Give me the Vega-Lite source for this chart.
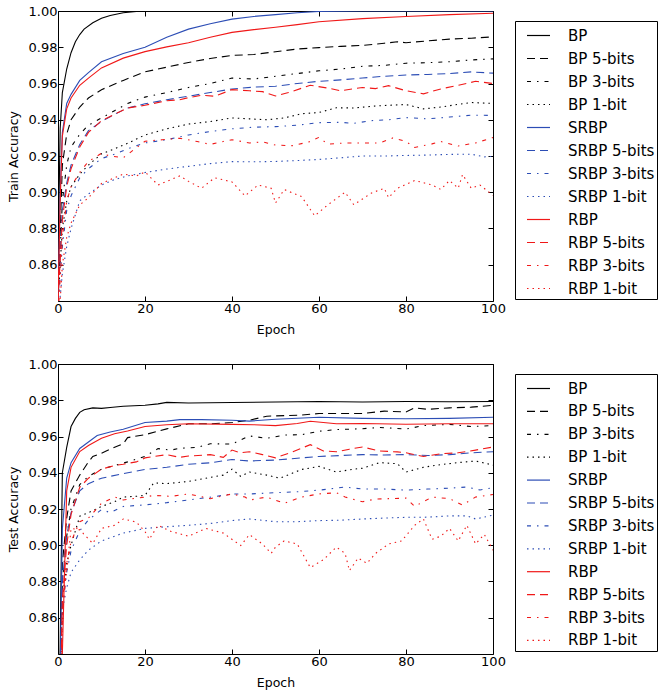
{
"$schema":"https://vega.github.io/schema/vega-lite/v6.json",
"padding":{"left":6,"top":4,"right":0,"bottom":4},
"spacing":19,
"config":{
 "font":"DejaVu Sans",
 "view":{"stroke":"black","strokeWidth":1},
 "axis":{"grid":false,"domain":false,"tickColor":"black","tickSize":-5,"labelFontSize":13,"labelColor":"black","titleFontSize":12.5,"titleFontWeight":"normal","titleColor":"black","labelPadding":6,"titlePadding":8,"labelFont":"DejaVu Sans","titleFont":"DejaVu Sans","labelFlush":false},
 "legend":{"symbolType":"stroke","symbolSize":529,"symbolStrokeWidth":1.2,"labelFontSize":15,"labelFont":"DejaVu Sans","labelColor":"black","strokeColor":"black","padding":2,"symbolOffset":9,"rowPadding":2,"labelOffset":17,"labelLimit":300,"labelExpr":"datum.label + '  '"}
},
"datasets":{
"train":[
{"s":"BP","x":0,"y":0.86},{"s":"BP","x":0.5,"y":0.935},{"s":"BP","x":1,"y":0.955},{"s":"BP","x":2,"y":0.968},{"s":"BP","x":3,"y":0.977},{"s":"BP","x":4,"y":0.983},{"s":"BP","x":5,"y":0.987},{"s":"BP","x":6,"y":0.990},{"s":"BP","x":8,"y":0.9935},{"s":"BP","x":10,"y":0.996},{"s":"BP","x":12,"y":0.9975},{"s":"BP","x":15,"y":0.999},{"s":"BP","x":18,"y":0.9998},{"s":"BP","x":20,"y":1.0},{"s":"BP","x":40,"y":1.0},{"s":"BP","x":60,"y":1.0},{"s":"BP","x":80,"y":1.0},{"s":"BP","x":100,"y":1.0},
{"s":"BP 5-bits","x":0,"y":0.84},{"s":"BP 5-bits","x":1,"y":0.915},{"s":"BP 5-bits","x":2,"y":0.932},{"s":"BP 5-bits","x":3,"y":0.940},{"s":"BP 5-bits","x":5,"y":0.947},{"s":"BP 5-bits","x":7,"y":0.952},{"s":"BP 5-bits","x":10,"y":0.9566},{"s":"BP 5-bits","x":15,"y":0.9617},{"s":"BP 5-bits","x":20,"y":0.9664},{"s":"BP 5-bits","x":25,"y":0.969},{"s":"BP 5-bits","x":30,"y":0.9716},{"s":"BP 5-bits","x":35,"y":0.9738},{"s":"BP 5-bits","x":40,"y":0.9755},{"s":"BP 5-bits","x":45,"y":0.976},{"s":"BP 5-bits","x":50,"y":0.9775},{"s":"BP 5-bits","x":55,"y":0.979},{"s":"BP 5-bits","x":60,"y":0.9798},{"s":"BP 5-bits","x":65,"y":0.9805},{"s":"BP 5-bits","x":70,"y":0.981},{"s":"BP 5-bits","x":75,"y":0.9822},{"s":"BP 5-bits","x":78,"y":0.983},{"s":"BP 5-bits","x":80,"y":0.9825},{"s":"BP 5-bits","x":85,"y":0.9835},{"s":"BP 5-bits","x":90,"y":0.9845},{"s":"BP 5-bits","x":95,"y":0.985},{"s":"BP 5-bits","x":100,"y":0.9857},
{"s":"BP 3-bits","x":0,"y":0.84},{"s":"BP 3-bits","x":1,"y":0.895},{"s":"BP 3-bits","x":2,"y":0.915},{"s":"BP 3-bits","x":3,"y":0.925},{"s":"BP 3-bits","x":5,"y":0.932},{"s":"BP 3-bits","x":7,"y":0.937},{"s":"BP 3-bits","x":10,"y":0.941},{"s":"BP 3-bits","x":13,"y":0.945},{"s":"BP 3-bits","x":16,"y":0.949},{"s":"BP 3-bits","x":20,"y":0.9525},{"s":"BP 3-bits","x":25,"y":0.955},{"s":"BP 3-bits","x":30,"y":0.9578},{"s":"BP 3-bits","x":35,"y":0.960},{"s":"BP 3-bits","x":40,"y":0.963},{"s":"BP 3-bits","x":45,"y":0.9625},{"s":"BP 3-bits","x":50,"y":0.964},{"s":"BP 3-bits","x":55,"y":0.9655},{"s":"BP 3-bits","x":60,"y":0.967},{"s":"BP 3-bits","x":65,"y":0.968},{"s":"BP 3-bits","x":70,"y":0.9695},{"s":"BP 3-bits","x":75,"y":0.970},{"s":"BP 3-bits","x":80,"y":0.9712},{"s":"BP 3-bits","x":85,"y":0.9715},{"s":"BP 3-bits","x":90,"y":0.972},{"s":"BP 3-bits","x":95,"y":0.973},{"s":"BP 3-bits","x":100,"y":0.9736},
{"s":"BP 1-bit","x":0,"y":0.84},{"s":"BP 1-bit","x":1,"y":0.88},{"s":"BP 1-bit","x":2,"y":0.895},{"s":"BP 1-bit","x":3,"y":0.903},{"s":"BP 1-bit","x":5,"y":0.910},{"s":"BP 1-bit","x":7,"y":0.915},{"s":"BP 1-bit","x":10,"y":0.9212},{"s":"BP 1-bit","x":13,"y":0.924},{"s":"BP 1-bit","x":16,"y":0.927},{"s":"BP 1-bit","x":20,"y":0.9316},{"s":"BP 1-bit","x":25,"y":0.935},{"s":"BP 1-bit","x":30,"y":0.9376},{"s":"BP 1-bit","x":35,"y":0.939},{"s":"BP 1-bit","x":40,"y":0.941},{"s":"BP 1-bit","x":44,"y":0.9405},{"s":"BP 1-bit","x":48,"y":0.940},{"s":"BP 1-bit","x":52,"y":0.941},{"s":"BP 1-bit","x":56,"y":0.9433},{"s":"BP 1-bit","x":60,"y":0.944},{"s":"BP 1-bit","x":64,"y":0.9466},{"s":"BP 1-bit","x":68,"y":0.9465},{"s":"BP 1-bit","x":72,"y":0.9474},{"s":"BP 1-bit","x":76,"y":0.948},{"s":"BP 1-bit","x":80,"y":0.9484},{"s":"BP 1-bit","x":84,"y":0.946},{"s":"BP 1-bit","x":88,"y":0.947},{"s":"BP 1-bit","x":92,"y":0.9485},{"s":"BP 1-bit","x":95,"y":0.9495},{"s":"BP 1-bit","x":100,"y":0.949},
{"s":"SRBP","x":0,"y":0.84},{"s":"SRBP","x":0.5,"y":0.90},{"s":"SRBP","x":1,"y":0.933},{"s":"SRBP","x":2,"y":0.949},{"s":"SRBP","x":3,"y":0.954},{"s":"SRBP","x":5,"y":0.9617},{"s":"SRBP","x":7,"y":0.966},{"s":"SRBP","x":10,"y":0.972},{"s":"SRBP","x":15,"y":0.9765},{"s":"SRBP","x":20,"y":0.980},{"s":"SRBP","x":25,"y":0.9855},{"s":"SRBP","x":30,"y":0.990},{"s":"SRBP","x":35,"y":0.993},{"s":"SRBP","x":40,"y":0.9955},{"s":"SRBP","x":45,"y":0.997},{"s":"SRBP","x":50,"y":0.998},{"s":"SRBP","x":55,"y":0.999},{"s":"SRBP","x":60,"y":0.9998},{"s":"SRBP","x":70,"y":1.0},{"s":"SRBP","x":100,"y":1.0},
{"s":"SRBP 5-bits","x":0,"y":0.84},{"s":"SRBP 5-bits","x":1,"y":0.89},{"s":"SRBP 5-bits","x":2,"y":0.905},{"s":"SRBP 5-bits","x":3,"y":0.915},{"s":"SRBP 5-bits","x":5,"y":0.9264},{"s":"SRBP 5-bits","x":7,"y":0.934},{"s":"SRBP 5-bits","x":10,"y":0.939},{"s":"SRBP 5-bits","x":13,"y":0.943},{"s":"SRBP 5-bits","x":16,"y":0.9465},{"s":"SRBP 5-bits","x":20,"y":0.9488},{"s":"SRBP 5-bits","x":25,"y":0.951},{"s":"SRBP 5-bits","x":30,"y":0.953},{"s":"SRBP 5-bits","x":35,"y":0.955},{"s":"SRBP 5-bits","x":40,"y":0.957},{"s":"SRBP 5-bits","x":45,"y":0.958},{"s":"SRBP 5-bits","x":50,"y":0.9585},{"s":"SRBP 5-bits","x":55,"y":0.960},{"s":"SRBP 5-bits","x":60,"y":0.9612},{"s":"SRBP 5-bits","x":65,"y":0.962},{"s":"SRBP 5-bits","x":70,"y":0.963},{"s":"SRBP 5-bits","x":75,"y":0.964},{"s":"SRBP 5-bits","x":80,"y":0.9647},{"s":"SRBP 5-bits","x":85,"y":0.965},{"s":"SRBP 5-bits","x":90,"y":0.9655},{"s":"SRBP 5-bits","x":95,"y":0.9664},{"s":"SRBP 5-bits","x":100,"y":0.9657},
{"s":"SRBP 3-bits","x":0,"y":0.84},{"s":"SRBP 3-bits","x":1,"y":0.87},{"s":"SRBP 3-bits","x":2,"y":0.89},{"s":"SRBP 3-bits","x":3,"y":0.898},{"s":"SRBP 3-bits","x":5,"y":0.908},{"s":"SRBP 3-bits","x":7,"y":0.913},{"s":"SRBP 3-bits","x":10,"y":0.9186},{"s":"SRBP 3-bits","x":13,"y":0.921},{"s":"SRBP 3-bits","x":16,"y":0.924},{"s":"SRBP 3-bits","x":20,"y":0.9272},{"s":"SRBP 3-bits","x":25,"y":0.929},{"s":"SRBP 3-bits","x":30,"y":0.9316},{"s":"SRBP 3-bits","x":35,"y":0.9335},{"s":"SRBP 3-bits","x":40,"y":0.935},{"s":"SRBP 3-bits","x":45,"y":0.9359},{"s":"SRBP 3-bits","x":50,"y":0.9362},{"s":"SRBP 3-bits","x":55,"y":0.937},{"s":"SRBP 3-bits","x":60,"y":0.9384},{"s":"SRBP 3-bits","x":65,"y":0.9386},{"s":"SRBP 3-bits","x":68,"y":0.938},{"s":"SRBP 3-bits","x":72,"y":0.9395},{"s":"SRBP 3-bits","x":76,"y":0.940},{"s":"SRBP 3-bits","x":80,"y":0.9412},{"s":"SRBP 3-bits","x":85,"y":0.9405},{"s":"SRBP 3-bits","x":90,"y":0.9415},{"s":"SRBP 3-bits","x":95,"y":0.9425},{"s":"SRBP 3-bits","x":100,"y":0.9424},
{"s":"SRBP 1-bit","x":0,"y":0.83},{"s":"SRBP 1-bit","x":1,"y":0.855},{"s":"SRBP 1-bit","x":2,"y":0.87},{"s":"SRBP 1-bit","x":3,"y":0.88},{"s":"SRBP 1-bit","x":5,"y":0.8953},{"s":"SRBP 1-bit","x":7,"y":0.899},{"s":"SRBP 1-bit","x":10,"y":0.904},{"s":"SRBP 1-bit","x":13,"y":0.907},{"s":"SRBP 1-bit","x":16,"y":0.909},{"s":"SRBP 1-bit","x":20,"y":0.9109},{"s":"SRBP 1-bit","x":25,"y":0.9128},{"s":"SRBP 1-bit","x":30,"y":0.9143},{"s":"SRBP 1-bit","x":35,"y":0.9158},{"s":"SRBP 1-bit","x":40,"y":0.9169},{"s":"SRBP 1-bit","x":45,"y":0.9168},{"s":"SRBP 1-bit","x":50,"y":0.917},{"s":"SRBP 1-bit","x":55,"y":0.9175},{"s":"SRBP 1-bit","x":60,"y":0.9181},{"s":"SRBP 1-bit","x":65,"y":0.919},{"s":"SRBP 1-bit","x":70,"y":0.920},{"s":"SRBP 1-bit","x":75,"y":0.920},{"s":"SRBP 1-bit","x":80,"y":0.9203},{"s":"SRBP 1-bit","x":85,"y":0.9205},{"s":"SRBP 1-bit","x":90,"y":0.9209},{"s":"SRBP 1-bit","x":95,"y":0.921},{"s":"SRBP 1-bit","x":98,"y":0.9195},{"s":"SRBP 1-bit","x":100,"y":0.9198},
{"s":"RBP","x":0,"y":0.84},{"s":"RBP","x":0.5,"y":0.895},{"s":"RBP","x":1,"y":0.931},{"s":"RBP","x":2,"y":0.946},{"s":"RBP","x":3,"y":0.952},{"s":"RBP","x":5,"y":0.959},{"s":"RBP","x":7,"y":0.963},{"s":"RBP","x":10,"y":0.9686},{"s":"RBP","x":15,"y":0.974},{"s":"RBP","x":20,"y":0.9776},{"s":"RBP","x":25,"y":0.9802},{"s":"RBP","x":30,"y":0.9825},{"s":"RBP","x":35,"y":0.9855},{"s":"RBP","x":40,"y":0.9882},{"s":"RBP","x":45,"y":0.9897},{"s":"RBP","x":50,"y":0.991},{"s":"RBP","x":55,"y":0.9925},{"s":"RBP","x":60,"y":0.9941},{"s":"RBP","x":70,"y":0.9958},{"s":"RBP","x":80,"y":0.997},{"s":"RBP","x":90,"y":0.998},{"s":"RBP","x":100,"y":0.9988},
{"s":"RBP 5-bits","x":0,"y":0.84},{"s":"RBP 5-bits","x":1,"y":0.885},{"s":"RBP 5-bits","x":2,"y":0.903},{"s":"RBP 5-bits","x":3,"y":0.913},{"s":"RBP 5-bits","x":5,"y":0.925},{"s":"RBP 5-bits","x":7,"y":0.933},{"s":"RBP 5-bits","x":10,"y":0.9395},{"s":"RBP 5-bits","x":13,"y":0.943},{"s":"RBP 5-bits","x":16,"y":0.9465},{"s":"RBP 5-bits","x":20,"y":0.948},{"s":"RBP 5-bits","x":25,"y":0.9505},{"s":"RBP 5-bits","x":28,"y":0.951},{"s":"RBP 5-bits","x":30,"y":0.9522},{"s":"RBP 5-bits","x":33,"y":0.9535},{"s":"RBP 5-bits","x":36,"y":0.953},{"s":"RBP 5-bits","x":40,"y":0.9566},{"s":"RBP 5-bits","x":44,"y":0.956},{"s":"RBP 5-bits","x":47,"y":0.9555},{"s":"RBP 5-bits","x":50,"y":0.9531},{"s":"RBP 5-bits","x":53,"y":0.955},{"s":"RBP 5-bits","x":58,"y":0.959},{"s":"RBP 5-bits","x":62,"y":0.9575},{"s":"RBP 5-bits","x":65,"y":0.956},{"s":"RBP 5-bits","x":70,"y":0.9578},{"s":"RBP 5-bits","x":73,"y":0.9572},{"s":"RBP 5-bits","x":76,"y":0.9588},{"s":"RBP 5-bits","x":80,"y":0.956},{"s":"RBP 5-bits","x":84,"y":0.9543},{"s":"RBP 5-bits","x":88,"y":0.957},{"s":"RBP 5-bits","x":92,"y":0.959},{"s":"RBP 5-bits","x":96,"y":0.9612},{"s":"RBP 5-bits","x":100,"y":0.960},
{"s":"RBP 3-bits","x":0,"y":0.83},{"s":"RBP 3-bits","x":1,"y":0.875},{"s":"RBP 3-bits","x":2,"y":0.895},{"s":"RBP 3-bits","x":3,"y":0.903},{"s":"RBP 3-bits","x":5,"y":0.911},{"s":"RBP 3-bits","x":7,"y":0.917},{"s":"RBP 3-bits","x":10,"y":0.9215},{"s":"RBP 3-bits","x":12,"y":0.920},{"s":"RBP 3-bits","x":15,"y":0.919},{"s":"RBP 3-bits","x":18,"y":0.9245},{"s":"RBP 3-bits","x":20,"y":0.9281},{"s":"RBP 3-bits","x":24,"y":0.929},{"s":"RBP 3-bits","x":28,"y":0.9298},{"s":"RBP 3-bits","x":32,"y":0.928},{"s":"RBP 3-bits","x":35,"y":0.9264},{"s":"RBP 3-bits","x":38,"y":0.928},{"s":"RBP 3-bits","x":40,"y":0.929},{"s":"RBP 3-bits","x":44,"y":0.9272},{"s":"RBP 3-bits","x":47,"y":0.9278},{"s":"RBP 3-bits","x":50,"y":0.926},{"s":"RBP 3-bits","x":54,"y":0.9257},{"s":"RBP 3-bits","x":58,"y":0.928},{"s":"RBP 3-bits","x":60,"y":0.9303},{"s":"RBP 3-bits","x":62,"y":0.9265},{"s":"RBP 3-bits","x":66,"y":0.9272},{"s":"RBP 3-bits","x":70,"y":0.9272},{"s":"RBP 3-bits","x":74,"y":0.9272},{"s":"RBP 3-bits","x":77,"y":0.930},{"s":"RBP 3-bits","x":80,"y":0.928},{"s":"RBP 3-bits","x":82,"y":0.9247},{"s":"RBP 3-bits","x":86,"y":0.9267},{"s":"RBP 3-bits","x":88,"y":0.928},{"s":"RBP 3-bits","x":92,"y":0.9255},{"s":"RBP 3-bits","x":96,"y":0.9272},{"s":"RBP 3-bits","x":100,"y":0.9302},
{"s":"RBP 1-bit","x":0,"y":0.82},{"s":"RBP 1-bit","x":1,"y":0.86},{"s":"RBP 1-bit","x":2,"y":0.875},{"s":"RBP 1-bit","x":3,"y":0.883},{"s":"RBP 1-bit","x":5,"y":0.893},{"s":"RBP 1-bit","x":7,"y":0.897},{"s":"RBP 1-bit","x":10,"y":0.9048},{"s":"RBP 1-bit","x":13,"y":0.908},{"s":"RBP 1-bit","x":15,"y":0.910},{"s":"RBP 1-bit","x":18,"y":0.909},{"s":"RBP 1-bit","x":20,"y":0.9112},{"s":"RBP 1-bit","x":23,"y":0.904},{"s":"RBP 1-bit","x":26,"y":0.907},{"s":"RBP 1-bit","x":28,"y":0.909},{"s":"RBP 1-bit","x":30,"y":0.906},{"s":"RBP 1-bit","x":33,"y":0.9022},{"s":"RBP 1-bit","x":36,"y":0.908},{"s":"RBP 1-bit","x":40,"y":0.9057},{"s":"RBP 1-bit","x":43,"y":0.898},{"s":"RBP 1-bit","x":46,"y":0.904},{"s":"RBP 1-bit","x":49,"y":0.9022},{"s":"RBP 1-bit","x":50,"y":0.894},{"s":"RBP 1-bit","x":52,"y":0.9015},{"s":"RBP 1-bit","x":56,"y":0.8976},{"s":"RBP 1-bit","x":59,"y":0.887},{"s":"RBP 1-bit","x":62,"y":0.893},{"s":"RBP 1-bit","x":66,"y":0.900},{"s":"RBP 1-bit","x":68,"y":0.8931},{"s":"RBP 1-bit","x":72,"y":0.8995},{"s":"RBP 1-bit","x":75,"y":0.9022},{"s":"RBP 1-bit","x":76,"y":0.897},{"s":"RBP 1-bit","x":78,"y":0.9022},{"s":"RBP 1-bit","x":82,"y":0.9065},{"s":"RBP 1-bit","x":86,"y":0.904},{"s":"RBP 1-bit","x":88,"y":0.9015},{"s":"RBP 1-bit","x":90,"y":0.9065},{"s":"RBP 1-bit","x":92,"y":0.9022},{"s":"RBP 1-bit","x":93,"y":0.9098},{"s":"RBP 1-bit","x":95,"y":0.9022},{"s":"RBP 1-bit","x":97,"y":0.904},{"s":"RBP 1-bit","x":100,"y":0.8983}
],
"test":[
{"s":"BP","x":0,"y":0.75},{"s":"BP","x":1,"y":0.94},{"s":"BP","x":2,"y":0.954},{"s":"BP","x":3,"y":0.9655},{"s":"BP","x":4,"y":0.970},{"s":"BP","x":5,"y":0.9733},{"s":"BP","x":6,"y":0.9748},{"s":"BP","x":8,"y":0.9758},{"s":"BP","x":10,"y":0.9755},{"s":"BP","x":12,"y":0.976},{"s":"BP","x":15,"y":0.9767},{"s":"BP","x":20,"y":0.9772},{"s":"BP","x":23,"y":0.978},{"s":"BP","x":25,"y":0.9788},{"s":"BP","x":30,"y":0.9785},{"s":"BP","x":40,"y":0.9788},{"s":"BP","x":50,"y":0.979},{"s":"BP","x":60,"y":0.9793},{"s":"BP","x":70,"y":0.979},{"s":"BP","x":80,"y":0.9793},{"s":"BP","x":90,"y":0.9792},{"s":"BP","x":100,"y":0.9793},
{"s":"BP 5-bits","x":0,"y":0.75},{"s":"BP 5-bits","x":1,"y":0.89},{"s":"BP 5-bits","x":2,"y":0.915},{"s":"BP 5-bits","x":3,"y":0.930},{"s":"BP 5-bits","x":5,"y":0.9387},{"s":"BP 5-bits","x":7,"y":0.946},{"s":"BP 5-bits","x":8,"y":0.949},{"s":"BP 5-bits","x":10,"y":0.9508},{"s":"BP 5-bits","x":12,"y":0.953},{"s":"BP 5-bits","x":14,"y":0.955},{"s":"BP 5-bits","x":15,"y":0.956},{"s":"BP 5-bits","x":16,"y":0.9594},{"s":"BP 5-bits","x":20,"y":0.961},{"s":"BP 5-bits","x":25,"y":0.9642},{"s":"BP 5-bits","x":30,"y":0.967},{"s":"BP 5-bits","x":35,"y":0.967},{"s":"BP 5-bits","x":40,"y":0.9677},{"s":"BP 5-bits","x":44,"y":0.969},{"s":"BP 5-bits","x":48,"y":0.9712},{"s":"BP 5-bits","x":52,"y":0.9715},{"s":"BP 5-bits","x":56,"y":0.9718},{"s":"BP 5-bits","x":60,"y":0.9727},{"s":"BP 5-bits","x":65,"y":0.9727},{"s":"BP 5-bits","x":70,"y":0.9727},{"s":"BP 5-bits","x":75,"y":0.974},{"s":"BP 5-bits","x":80,"y":0.9735},{"s":"BP 5-bits","x":82,"y":0.9758},{"s":"BP 5-bits","x":85,"y":0.975},{"s":"BP 5-bits","x":88,"y":0.9755},{"s":"BP 5-bits","x":90,"y":0.9758},{"s":"BP 5-bits","x":95,"y":0.9762},{"s":"BP 5-bits","x":100,"y":0.9772},
{"s":"BP 3-bits","x":0,"y":0.75},{"s":"BP 3-bits","x":1,"y":0.88},{"s":"BP 3-bits","x":2,"y":0.905},{"s":"BP 3-bits","x":3,"y":0.92},{"s":"BP 3-bits","x":5,"y":0.9335},{"s":"BP 3-bits","x":7,"y":0.938},{"s":"BP 3-bits","x":10,"y":0.942},{"s":"BP 3-bits","x":13,"y":0.944},{"s":"BP 3-bits","x":16,"y":0.946},{"s":"BP 3-bits","x":20,"y":0.949},{"s":"BP 3-bits","x":23,"y":0.9533},{"s":"BP 3-bits","x":26,"y":0.9525},{"s":"BP 3-bits","x":28,"y":0.9535},{"s":"BP 3-bits","x":32,"y":0.954},{"s":"BP 3-bits","x":35,"y":0.956},{"s":"BP 3-bits","x":40,"y":0.9558},{"s":"BP 3-bits","x":44,"y":0.9603},{"s":"BP 3-bits","x":48,"y":0.959},{"s":"BP 3-bits","x":52,"y":0.9608},{"s":"BP 3-bits","x":56,"y":0.961},{"s":"BP 3-bits","x":60,"y":0.9629},{"s":"BP 3-bits","x":64,"y":0.9638},{"s":"BP 3-bits","x":70,"y":0.9643},{"s":"BP 3-bits","x":74,"y":0.965},{"s":"BP 3-bits","x":80,"y":0.9641},{"s":"BP 3-bits","x":84,"y":0.966},{"s":"BP 3-bits","x":90,"y":0.9667},{"s":"BP 3-bits","x":95,"y":0.9655},{"s":"BP 3-bits","x":100,"y":0.966},
{"s":"BP 1-bit","x":0,"y":0.75},{"s":"BP 1-bit","x":1,"y":0.87},{"s":"BP 1-bit","x":2,"y":0.89},{"s":"BP 1-bit","x":3,"y":0.90},{"s":"BP 1-bit","x":5,"y":0.916},{"s":"BP 1-bit","x":7,"y":0.918},{"s":"BP 1-bit","x":10,"y":0.9214},{"s":"BP 1-bit","x":13,"y":0.924},{"s":"BP 1-bit","x":15,"y":0.9266},{"s":"BP 1-bit","x":18,"y":0.927},{"s":"BP 1-bit","x":20,"y":0.9275},{"s":"BP 1-bit","x":22,"y":0.9344},{"s":"BP 1-bit","x":25,"y":0.934},{"s":"BP 1-bit","x":30,"y":0.9352},{"s":"BP 1-bit","x":34,"y":0.937},{"s":"BP 1-bit","x":38,"y":0.9387},{"s":"BP 1-bit","x":40,"y":0.942},{"s":"BP 1-bit","x":42,"y":0.938},{"s":"BP 1-bit","x":44,"y":0.9404},{"s":"BP 1-bit","x":48,"y":0.9387},{"s":"BP 1-bit","x":51,"y":0.937},{"s":"BP 1-bit","x":56,"y":0.9418},{"s":"BP 1-bit","x":60,"y":0.9435},{"s":"BP 1-bit","x":64,"y":0.9404},{"s":"BP 1-bit","x":68,"y":0.942},{"s":"BP 1-bit","x":70,"y":0.9425},{"s":"BP 1-bit","x":74,"y":0.9456},{"s":"BP 1-bit","x":78,"y":0.945},{"s":"BP 1-bit","x":80,"y":0.9404},{"s":"BP 1-bit","x":84,"y":0.943},{"s":"BP 1-bit","x":88,"y":0.9445},{"s":"BP 1-bit","x":92,"y":0.9456},{"s":"BP 1-bit","x":96,"y":0.9465},{"s":"BP 1-bit","x":100,"y":0.9442},
{"s":"SRBP","x":0,"y":0.75},{"s":"SRBP","x":1,"y":0.909},{"s":"SRBP","x":2,"y":0.937},{"s":"SRBP","x":3,"y":0.9456},{"s":"SRBP","x":5,"y":0.9534},{"s":"SRBP","x":7,"y":0.957},{"s":"SRBP","x":9,"y":0.9605},{"s":"SRBP","x":12,"y":0.9625},{"s":"SRBP","x":15,"y":0.964},{"s":"SRBP","x":20,"y":0.9677},{"s":"SRBP","x":25,"y":0.9685},{"s":"SRBP","x":28,"y":0.9693},{"s":"SRBP","x":33,"y":0.9693},{"s":"SRBP","x":40,"y":0.969},{"s":"SRBP","x":44,"y":0.9685},{"s":"SRBP","x":50,"y":0.9695},{"s":"SRBP","x":60,"y":0.9706},{"s":"SRBP","x":70,"y":0.970},{"s":"SRBP","x":80,"y":0.9698},{"s":"SRBP","x":90,"y":0.970},{"s":"SRBP","x":100,"y":0.9706},
{"s":"SRBP 5-bits","x":0,"y":0.75},{"s":"SRBP 5-bits","x":1,"y":0.88},{"s":"SRBP 5-bits","x":2,"y":0.905},{"s":"SRBP 5-bits","x":3,"y":0.918},{"s":"SRBP 5-bits","x":5,"y":0.930},{"s":"SRBP 5-bits","x":7,"y":0.934},{"s":"SRBP 5-bits","x":10,"y":0.937},{"s":"SRBP 5-bits","x":15,"y":0.9395},{"s":"SRBP 5-bits","x":20,"y":0.9418},{"s":"SRBP 5-bits","x":25,"y":0.943},{"s":"SRBP 5-bits","x":30,"y":0.9447},{"s":"SRBP 5-bits","x":35,"y":0.9455},{"s":"SRBP 5-bits","x":40,"y":0.9473},{"s":"SRBP 5-bits","x":44,"y":0.9465},{"s":"SRBP 5-bits","x":50,"y":0.947},{"s":"SRBP 5-bits","x":55,"y":0.948},{"s":"SRBP 5-bits","x":60,"y":0.949},{"s":"SRBP 5-bits","x":65,"y":0.9495},{"s":"SRBP 5-bits","x":70,"y":0.95},{"s":"SRBP 5-bits","x":75,"y":0.9498},{"s":"SRBP 5-bits","x":80,"y":0.95},{"s":"SRBP 5-bits","x":85,"y":0.9495},{"s":"SRBP 5-bits","x":90,"y":0.95},{"s":"SRBP 5-bits","x":95,"y":0.951},{"s":"SRBP 5-bits","x":100,"y":0.9516},
{"s":"SRBP 3-bits","x":0,"y":0.75},{"s":"SRBP 3-bits","x":1,"y":0.865},{"s":"SRBP 3-bits","x":2,"y":0.885},{"s":"SRBP 3-bits","x":3,"y":0.897},{"s":"SRBP 3-bits","x":5,"y":0.908},{"s":"SRBP 3-bits","x":7,"y":0.914},{"s":"SRBP 3-bits","x":10,"y":0.9197},{"s":"SRBP 3-bits","x":12,"y":0.918},{"s":"SRBP 3-bits","x":15,"y":0.9214},{"s":"SRBP 3-bits","x":20,"y":0.9223},{"s":"SRBP 3-bits","x":25,"y":0.9235},{"s":"SRBP 3-bits","x":30,"y":0.925},{"s":"SRBP 3-bits","x":35,"y":0.9265},{"s":"SRBP 3-bits","x":40,"y":0.9283},{"s":"SRBP 3-bits","x":44,"y":0.9283},{"s":"SRBP 3-bits","x":50,"y":0.929},{"s":"SRBP 3-bits","x":55,"y":0.9295},{"s":"SRBP 3-bits","x":60,"y":0.9304},{"s":"SRBP 3-bits","x":66,"y":0.9321},{"s":"SRBP 3-bits","x":70,"y":0.931},{"s":"SRBP 3-bits","x":75,"y":0.931},{"s":"SRBP 3-bits","x":80,"y":0.9304},{"s":"SRBP 3-bits","x":85,"y":0.931},{"s":"SRBP 3-bits","x":90,"y":0.9315},{"s":"SRBP 3-bits","x":94,"y":0.9321},{"s":"SRBP 3-bits","x":97,"y":0.9305},{"s":"SRBP 3-bits","x":100,"y":0.9318},
{"s":"SRBP 1-bit","x":0,"y":0.75},{"s":"SRBP 1-bit","x":1,"y":0.8644},{"s":"SRBP 1-bit","x":2,"y":0.8765},{"s":"SRBP 1-bit","x":3,"y":0.885},{"s":"SRBP 1-bit","x":5,"y":0.892},{"s":"SRBP 1-bit","x":7,"y":0.8973},{"s":"SRBP 1-bit","x":10,"y":0.9024},{"s":"SRBP 1-bit","x":15,"y":0.9067},{"s":"SRBP 1-bit","x":20,"y":0.9093},{"s":"SRBP 1-bit","x":25,"y":0.9102},{"s":"SRBP 1-bit","x":30,"y":0.911},{"s":"SRBP 1-bit","x":35,"y":0.912},{"s":"SRBP 1-bit","x":40,"y":0.9136},{"s":"SRBP 1-bit","x":44,"y":0.9145},{"s":"SRBP 1-bit","x":50,"y":0.913},{"s":"SRBP 1-bit","x":55,"y":0.913},{"s":"SRBP 1-bit","x":60,"y":0.9136},{"s":"SRBP 1-bit","x":65,"y":0.9138},{"s":"SRBP 1-bit","x":70,"y":0.9145},{"s":"SRBP 1-bit","x":75,"y":0.915},{"s":"SRBP 1-bit","x":80,"y":0.9154},{"s":"SRBP 1-bit","x":85,"y":0.9155},{"s":"SRBP 1-bit","x":90,"y":0.9162},{"s":"SRBP 1-bit","x":94,"y":0.9162},{"s":"SRBP 1-bit","x":96,"y":0.9145},{"s":"SRBP 1-bit","x":100,"y":0.9166},
{"s":"RBP","x":0,"y":0.75},{"s":"RBP","x":1,"y":0.84},{"s":"RBP","x":2,"y":0.93},{"s":"RBP","x":3,"y":0.943},{"s":"RBP","x":5,"y":0.9517},{"s":"RBP","x":7,"y":0.955},{"s":"RBP","x":10,"y":0.959},{"s":"RBP","x":13,"y":0.9615},{"s":"RBP","x":16,"y":0.963},{"s":"RBP","x":20,"y":0.9655},{"s":"RBP","x":25,"y":0.9665},{"s":"RBP","x":30,"y":0.967},{"s":"RBP","x":40,"y":0.9667},{"s":"RBP","x":45,"y":0.9665},{"s":"RBP","x":50,"y":0.966},{"s":"RBP","x":55,"y":0.9672},{"s":"RBP","x":58,"y":0.9684},{"s":"RBP","x":64,"y":0.967},{"s":"RBP","x":70,"y":0.9672},{"s":"RBP","x":80,"y":0.9668},{"s":"RBP","x":90,"y":0.967},{"s":"RBP","x":100,"y":0.967},
{"s":"RBP 5-bits","x":0,"y":0.75},{"s":"RBP 5-bits","x":1,"y":0.87},{"s":"RBP 5-bits","x":2,"y":0.90},{"s":"RBP 5-bits","x":3,"y":0.917},{"s":"RBP 5-bits","x":5,"y":0.932},{"s":"RBP 5-bits","x":7,"y":0.937},{"s":"RBP 5-bits","x":10,"y":0.942},{"s":"RBP 5-bits","x":13,"y":0.944},{"s":"RBP 5-bits","x":15,"y":0.9447},{"s":"RBP 5-bits","x":18,"y":0.946},{"s":"RBP 5-bits","x":20,"y":0.9482},{"s":"RBP 5-bits","x":25,"y":0.950},{"s":"RBP 5-bits","x":28,"y":0.9485},{"s":"RBP 5-bits","x":30,"y":0.9492},{"s":"RBP 5-bits","x":35,"y":0.950},{"s":"RBP 5-bits","x":38,"y":0.9485},{"s":"RBP 5-bits","x":40,"y":0.9525},{"s":"RBP 5-bits","x":42,"y":0.951},{"s":"RBP 5-bits","x":44,"y":0.9516},{"s":"RBP 5-bits","x":47,"y":0.950},{"s":"RBP 5-bits","x":50,"y":0.9482},{"s":"RBP 5-bits","x":54,"y":0.9516},{"s":"RBP 5-bits","x":58,"y":0.9555},{"s":"RBP 5-bits","x":61,"y":0.952},{"s":"RBP 5-bits","x":64,"y":0.9516},{"s":"RBP 5-bits","x":67,"y":0.953},{"s":"RBP 5-bits","x":70,"y":0.9542},{"s":"RBP 5-bits","x":74,"y":0.952},{"s":"RBP 5-bits","x":78,"y":0.9515},{"s":"RBP 5-bits","x":80,"y":0.951},{"s":"RBP 5-bits","x":84,"y":0.949},{"s":"RBP 5-bits","x":88,"y":0.9505},{"s":"RBP 5-bits","x":92,"y":0.951},{"s":"RBP 5-bits","x":96,"y":0.9525},{"s":"RBP 5-bits","x":100,"y":0.9542},
{"s":"RBP 3-bits","x":0,"y":0.75},{"s":"RBP 3-bits","x":1,"y":0.86},{"s":"RBP 3-bits","x":2,"y":0.89},{"s":"RBP 3-bits","x":3,"y":0.902},{"s":"RBP 3-bits","x":5,"y":0.913},{"s":"RBP 3-bits","x":7,"y":0.915},{"s":"RBP 3-bits","x":10,"y":0.9232},{"s":"RBP 3-bits","x":13,"y":0.9266},{"s":"RBP 3-bits","x":15,"y":0.925},{"s":"RBP 3-bits","x":18,"y":0.926},{"s":"RBP 3-bits","x":20,"y":0.9266},{"s":"RBP 3-bits","x":22,"y":0.9275},{"s":"RBP 3-bits","x":26,"y":0.927},{"s":"RBP 3-bits","x":30,"y":0.9283},{"s":"RBP 3-bits","x":35,"y":0.9257},{"s":"RBP 3-bits","x":40,"y":0.9283},{"s":"RBP 3-bits","x":43,"y":0.9266},{"s":"RBP 3-bits","x":44,"y":0.9249},{"s":"RBP 3-bits","x":48,"y":0.9266},{"s":"RBP 3-bits","x":52,"y":0.9232},{"s":"RBP 3-bits","x":56,"y":0.9266},{"s":"RBP 3-bits","x":60,"y":0.9283},{"s":"RBP 3-bits","x":64,"y":0.929},{"s":"RBP 3-bits","x":66,"y":0.9266},{"s":"RBP 3-bits","x":70,"y":0.924},{"s":"RBP 3-bits","x":73,"y":0.9255},{"s":"RBP 3-bits","x":76,"y":0.9257},{"s":"RBP 3-bits","x":80,"y":0.926},{"s":"RBP 3-bits","x":82,"y":0.9214},{"s":"RBP 3-bits","x":86,"y":0.9266},{"s":"RBP 3-bits","x":90,"y":0.9257},{"s":"RBP 3-bits","x":93,"y":0.9222},{"s":"RBP 3-bits","x":96,"y":0.9266},{"s":"RBP 3-bits","x":100,"y":0.928},
{"s":"RBP 1-bit","x":0,"y":0.75},{"s":"RBP 1-bit","x":1,"y":0.87},{"s":"RBP 1-bit","x":2,"y":0.885},{"s":"RBP 1-bit","x":3,"y":0.9093},{"s":"RBP 1-bit","x":5,"y":0.9085},{"s":"RBP 1-bit","x":8,"y":0.901},{"s":"RBP 1-bit","x":10,"y":0.9093},{"s":"RBP 1-bit","x":13,"y":0.911},{"s":"RBP 1-bit","x":15,"y":0.9145},{"s":"RBP 1-bit","x":18,"y":0.9128},{"s":"RBP 1-bit","x":20,"y":0.9076},{"s":"RBP 1-bit","x":21,"y":0.9033},{"s":"RBP 1-bit","x":23,"y":0.911},{"s":"RBP 1-bit","x":26,"y":0.9076},{"s":"RBP 1-bit","x":30,"y":0.905},{"s":"RBP 1-bit","x":34,"y":0.9093},{"s":"RBP 1-bit","x":38,"y":0.9067},{"s":"RBP 1-bit","x":42,"y":0.8998},{"s":"RBP 1-bit","x":44,"y":0.9059},{"s":"RBP 1-bit","x":46,"y":0.9024},{"s":"RBP 1-bit","x":47,"y":0.9007},{"s":"RBP 1-bit","x":49,"y":0.8955},{"s":"RBP 1-bit","x":50,"y":0.899},{"s":"RBP 1-bit","x":52,"y":0.9024},{"s":"RBP 1-bit","x":55,"y":0.9007},{"s":"RBP 1-bit","x":57,"y":0.892},{"s":"RBP 1-bit","x":58,"y":0.8877},{"s":"RBP 1-bit","x":61,"y":0.892},{"s":"RBP 1-bit","x":64,"y":0.899},{"s":"RBP 1-bit","x":66,"y":0.8955},{"s":"RBP 1-bit","x":67,"y":0.886},{"s":"RBP 1-bit","x":69,"y":0.893},{"s":"RBP 1-bit","x":71,"y":0.890},{"s":"RBP 1-bit","x":73,"y":0.8955},{"s":"RBP 1-bit","x":76,"y":0.9007},{"s":"RBP 1-bit","x":79,"y":0.9024},{"s":"RBP 1-bit","x":82,"y":0.911},{"s":"RBP 1-bit","x":84,"y":0.9145},{"s":"RBP 1-bit","x":86,"y":0.9033},{"s":"RBP 1-bit","x":88,"y":0.905},{"s":"RBP 1-bit","x":90,"y":0.9093},{"s":"RBP 1-bit","x":92,"y":0.9024},{"s":"RBP 1-bit","x":94,"y":0.911},{"s":"RBP 1-bit","x":96,"y":0.9007},{"s":"RBP 1-bit","x":98,"y":0.906},{"s":"RBP 1-bit","x":100,"y":0.8973}
]
},
"vconcat":[
{"width":435,"height":290,"data":{"name":"train"},
 "layer":[
  {"mark":{"type":"line","strokeWidth":1.1,"clip":true},
   "encoding":{
    "x":{"field":"x","type":"quantitative","scale":{"domain":[0,100]},"axis":{"orient":"bottom","title":"Epoch","values":[0,20,40,60,80,100]}},
    "y":{"field":"y","type":"quantitative","scale":{"domain":[0.85,1.0]},"axis":{"orient":"left","title":"Train Accuracy","values":[0.86,0.88,0.9,0.92,0.94,0.96,0.98,1.0],"format":".2f"}},
    "color":{"field":"s","type":"nominal","scale":{"domain":["BP","BP 5-bits","BP 3-bits","BP 1-bit","SRBP","SRBP 5-bits","SRBP 3-bits","SRBP 1-bit","RBP","RBP 5-bits","RBP 3-bits","RBP 1-bit"],"range":["#000000","#000000","#000000","#000000","#2c4db5","#2c4db5","#2c4db5","#2c4db5","#f01818","#f01818","#f01818","#f01818"]},"legend":{"orient":"none","legendX":457,"legendY":10,"title":null,"rowPadding":2}},
    "strokeDash":{"field":"s","type":"nominal","scale":{"domain":["BP","BP 5-bits","BP 3-bits","BP 1-bit","SRBP","SRBP 5-bits","SRBP 3-bits","SRBP 1-bit","RBP","RBP 5-bits","RBP 3-bits","RBP 1-bit"],"range":[[],[8,5],[4,6,1.5,6],[1.5,4],[],[8,5],[4,6,1.5,6],[1.5,4],[],[8,5],[4,6,1.5,6],[1.5,4]]},"legend":{"orient":"none","legendX":457,"legendY":10,"title":null,"rowPadding":2}}
   }},
  {"mark":{"type":"line","opacity":0},
   "encoding":{
    "x":{"field":"x","type":"quantitative","axis":{"orient":"top","labels":false,"title":null,"values":[0,20,40,60,80,100]}},
    "y":{"field":"y","type":"quantitative","axis":{"orient":"right","labels":false,"title":null,"values":[0.86,0.88,0.9,0.92,0.94,0.96,0.98,1.0]}},
    "detail":{"field":"s"}
   }}
 ]},
{"width":435,"height":290,"data":{"name":"test"},
 "layer":[
  {"mark":{"type":"line","strokeWidth":1.1,"clip":true},
   "encoding":{
    "x":{"field":"x","type":"quantitative","scale":{"domain":[0,100]},"axis":{"orient":"bottom","title":"Epoch","values":[0,20,40,60,80,100]}},
    "y":{"field":"y","type":"quantitative","scale":{"domain":[0.85,1.0]},"axis":{"orient":"left","title":"Test Accuracy","values":[0.86,0.88,0.9,0.92,0.94,0.96,0.98,1.0],"format":".2f"}},
    "color":{"field":"s","type":"nominal","scale":{"domain":["BP","BP 5-bits","BP 3-bits","BP 1-bit","SRBP","SRBP 5-bits","SRBP 3-bits","SRBP 1-bit","RBP","RBP 5-bits","RBP 3-bits","RBP 1-bit"],"range":["#000000","#000000","#000000","#000000","#2c4db5","#2c4db5","#2c4db5","#2c4db5","#f01818","#f01818","#f01818","#f01818"]},"legend":{"orient":"none","legendX":457,"legendY":10,"title":null,"rowPadding":1.9}},
    "strokeDash":{"field":"s","type":"nominal","scale":{"domain":["BP","BP 5-bits","BP 3-bits","BP 1-bit","SRBP","SRBP 5-bits","SRBP 3-bits","SRBP 1-bit","RBP","RBP 5-bits","RBP 3-bits","RBP 1-bit"],"range":[[],[8,5],[4,6,1.5,6],[1.5,4],[],[8,5],[4,6,1.5,6],[1.5,4],[],[8,5],[4,6,1.5,6],[1.5,4]]},"legend":{"orient":"none","legendX":457,"legendY":10,"title":null,"rowPadding":1.9}}
   }},
  {"mark":{"type":"line","opacity":0},
   "encoding":{
    "x":{"field":"x","type":"quantitative","axis":{"orient":"top","labels":false,"title":null,"values":[0,20,40,60,80,100]}},
    "y":{"field":"y","type":"quantitative","axis":{"orient":"right","labels":false,"title":null,"values":[0.86,0.88,0.9,0.92,0.94,0.96,0.98,1.0]}},
    "detail":{"field":"s"}
   }}
 ]}
],
"resolve":{"scale":{"color":"independent","strokeDash":"independent"},"legend":{"color":"independent","strokeDash":"independent"}}
}
